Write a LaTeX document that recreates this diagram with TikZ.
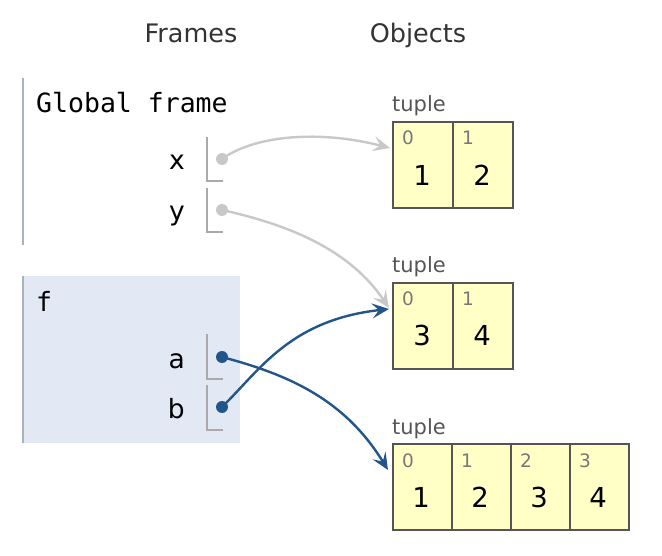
\documentclass[tikz,border=0pt]{standalone}
\usepackage{fontspec}
\setmainfont{DejaVu Sans}
\newfontfamily\codefont{DejaVu Sans Mono}
\usetikzlibrary{arrows.meta}
\definecolor{hdr}{HTML}{333333}
\definecolor{lblgray}{HTML}{555555}
\definecolor{idxgray}{HTML}{777777}
\definecolor{cellfill}{HTML}{FFFFC6}
\definecolor{cellborder}{HTML}{555555}
\definecolor{framebg}{HTML}{E2E9F4}
\definecolor{frameline}{HTML}{A9B4B8}
\definecolor{boxline}{HTML}{AAAAAA}
\definecolor{garrowc}{HTML}{C8C8C8}
\definecolor{barrowc}{HTML}{22568A}
\tikzset{
  hdrtext/.style={font=\fontsize{25.5}{30}\selectfont, text=hdr, anchor=base, inner sep=0},
  codetext/.style={font=\codefont\fontsize{26.5}{30}\selectfont, anchor=base west, inner sep=0},
  vartext/.style={font=\fontsize{26.5}{30}\selectfont, anchor=base east, inner sep=0},
  tuplelbl/.style={font=\fontsize{21}{24}\selectfont, text=lblgray, anchor=base west, inner sep=0},
  cell/.style={draw=cellborder, line width=2pt, fill=cellfill, minimum width=#1, minimum height=86pt, inner sep=0, anchor=north west},
  cell/.default=60pt,
  idx/.style={font=\fontsize{18.5}{20}\selectfont, text=idxgray, anchor=base west, inner sep=0},
  val/.style={font=\fontsize{27.5}{30}\selectfont, anchor=base, inner sep=0},
  varbox/.style={draw=boxline, line width=2pt},
  dotg/.style={circle, fill=garrowc, minimum size=12pt, inner sep=0},
  dotb/.style={circle, fill=barrowc, minimum size=12pt, inner sep=0},
  garrow/.style={draw=garrowc, line width=2.4pt, -{Stealth[length=17pt,width=15pt,inset=7pt]}},
  barrow/.style={draw=barrowc, line width=2.4pt, -{Stealth[length=17pt,width=15pt,inset=7pt]}},
}
\begin{document}
\begin{tikzpicture}[x=1pt,y=-1pt]
\useasboundingbox (0,0) rectangle (662,556);

% headers
\node[hdrtext] (hframes) at (191,43) {Frames};
\node[hdrtext] (hobjects) at (418,43) {Objects};

% global frame
\draw[frameline, line width=2pt] (23,78) -- (23,245);
\node[codetext] (gname) at (36,113) {Global frame};
\node[vartext] (vx) at (185,170) {x};
\node[vartext] (vy) at (185,221) {y};
\draw[varbox] (207,137) -- (207,181) -- (223,181);
\draw[varbox] (207,188) -- (207,232) -- (223,232);
\node[dotg] (dx) at (222,159) {};
\node[dotg] (dy) at (222,210) {};

% f frame
\fill[framebg] (22,276) rectangle (240,443);
\draw[frameline, line width=2pt] (23,276) -- (23,443);
\node[codetext] (fname) at (36,312) {f};
\node[vartext] (va) at (185,368) {a};
\node[vartext] (vb) at (185,418) {b};
\draw[varbox] (207,334) -- (207,379) -- (223,379);
\draw[varbox] (207,385) -- (207,430) -- (223,430);
\node[dotb] (da) at (222,357) {};
\node[dotb] (db) at (222,407) {};

% tuple 1
\node[tuplelbl] (l1) at (392,112) {tuple};
\node[cell] (t1c0) at (392,121) {};
\node[cell] (t1c1) at (452,121) {};
\node[idx] at (402,145) {0};
\node[idx] at (462,145) {1};
\node[val] at (422,186) {1};
\node[val] at (482,186) {2};

% tuple 2
\node[tuplelbl] (l2) at (392,273) {tuple};
\node[cell] (t2c0) at (392,282) {};
\node[cell] (t2c1) at (452,282) {};
\node[idx] at (402,306) {0};
\node[idx] at (462,306) {1};
\node[val] at (422,346) {3};
\node[val] at (482,346) {4};

% tuple 3
\node[tuplelbl] (l3) at (392,434) {tuple};
\node[cell=59pt] (t3c0) at (392,443) {};
\node[cell=59pt] (t3c1) at (451,443) {};
\node[cell=59pt] (t3c2) at (510,443) {};
\node[cell=59pt] (t3c3) at (569,443) {};
\node[idx] at (402,467) {0};
\node[idx] at (461,467) {1};
\node[idx] at (520,467) {2};
\node[idx] at (579,467) {3};
\node[val] at (421,507) {1};
\node[val] at (480,507) {2};
\node[val] at (539,507) {3};
\node[val] at (598,507) {4};

% arrow targets
\coordinate (t1in) at (390,148);
\coordinate (t2iny) at (389,308);
\coordinate (t2inb) at (389,309);
\coordinate (t3in) at (388,470);

% connectors
\draw[garrow] (dx.center) .. controls (255,135) and (320,130) .. (t1in);
\draw[garrow] (dy.center) .. controls (290,225) and (350,250) .. (t2iny);
\draw[barrow] (da.center) .. controls (290,375) and (345,400) .. (t3in);
\draw[barrow] (db.center) .. controls (260,370) and (290,320) .. (t2inb);
\end{tikzpicture}
\end{document}
